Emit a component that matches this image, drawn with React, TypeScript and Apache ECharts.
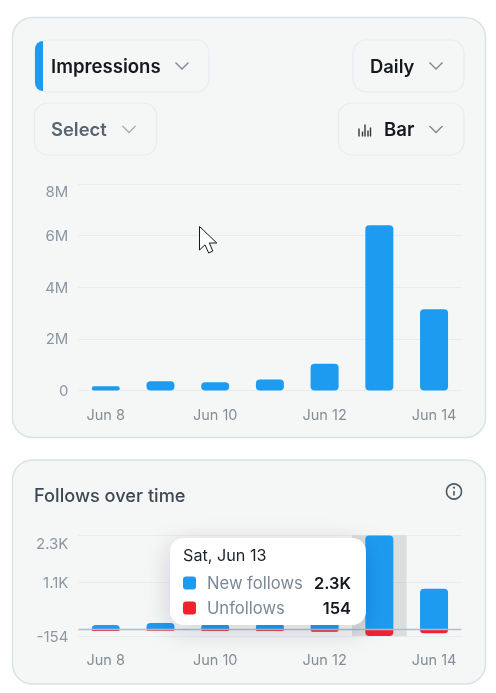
import React, { useEffect, useRef } from "react";
import * as echarts from "echarts";

const categories = ["Jun 8", "Jun 9", "Jun 10", "Jun 11", "Jun 12", "Jun 13", "Jun 14"];
const impressions = [160000, 360000, 320000, 430000, 1040000, 6400000, 3150000];
const newFollows = [114, 163, 140, 150, 190, 2300, 1000];
const unfollows = [-30, -25, -30, -30, -50, -154, -85];
const impressionTicks = [0, 2000000, 4000000, 6000000, 8000000];
const followTicks = [-154, 1150, 2300];
const followTickLabels: Record<string, string> = { "-154": "-154", "1150": "1.1K", "2300": "2.3K" };

const FONT = "Inter";
const BLUE = "#1d9bf0";
const RED = "#f4212e";
const GRID = "#e8ecf0";
const DARK = "#14191f";
const PANEL = "#f5f7f7";

const card = (y: number, h: number) => ({
  type: "rect", z: -10,
  shape: { x: 12.5, y, width: 473, height: h, r: 20 },
  style: { fill: PANEL, stroke: "#d9e3e9", lineWidth: 1.5 },
});
const button = (x: number, y: number, w: number) => ({
  type: "rect", z: -9,
  shape: { x, y, width: w, height: 52, r: 13 },
  style: { fill: PANEL, stroke: "#e8ecf0", lineWidth: 1.2 },
});
const chevron = (x: number, y: number, color: string) => ({
  type: "polyline", z: -8,
  shape: { points: [[x - 6.5, y - 3], [x, y + 3.5], [x + 6.5, y - 3]] },
  style: { fill: "none", stroke: color, lineWidth: 1.3 },
});
const label = (x: number, y: number, text: string, size: number, weight: number, fill: string, align = "left", z = -8) => ({
  type: "text", z, x, y,
  style: { text, fontFamily: FONT, fontSize: size, fontWeight: weight, fill, align, verticalAlign: "middle" },
});
const tipZ = 100;
const background = [
  card(17.5, 420),
  card(460, 224),
  button(35, 40, 174),
  {
    type: "rect", z: -8,
    shape: { x: 35, y: 41, width: 8, height: 50, r: [12, 0, 0, 12] },
    style: { fill: BLUE },
  },
  label(51, 66, "Impressions", 18.6, 600, DARK),
  chevron(182, 65.5, "#7b858f"),
  button(353, 40, 111),
  label(370, 66, "Daily", 18.4, 600, DARK),
  chevron(436, 65.5, "#7b858f"),
  button(34.5, 103, 122),
  label(51, 129, "Select", 18.4, 600, "#56646f"),
  chevron(129, 129, "#a3adb6"),
  button(338.5, 103, 125.5),
  ...[[359, 8], [362.5, 5], [365, 12], [368, 6], [370.5, 9]].map(([x, h]) => ({
    type: "line", z: -8,
    shape: { x1: x, y1: 136.5, x2: x, y2: 136.5 - h },
    style: { stroke: "#2f363d", lineWidth: 1.4 },
  })),
  label(384, 129, "Bar", 18.6, 600, DARK),
  chevron(436, 129, "#7b858f"),
  label(34, 495, "Follows over time", 18.2, 500, "#3d4853"),
  {
    type: "circle", z: -8,
    shape: { cx: 454, cy: 491.5, r: 7.5 },
    style: { fill: "none", stroke: "#4d5a66", lineWidth: 1.6 },
  },
  { type: "line", z: -8, shape: { x1: 454, y1: 491, x2: 454, y2: 495.5 }, style: { stroke: "#4d5a66", lineWidth: 1.6 } },
  { type: "circle", z: -8, shape: { cx: 454, cy: 487.7, r: 1 }, style: { fill: "#4d5a66" } },
];
const tooltip = [
  {
    type: "rect", z: tipZ,
    shape: { x: 170, y: 538, width: 196, height: 87, r: 14 },
    style: { fill: "#ffffff", shadowBlur: 24, shadowColor: "rgba(40,50,60,0.18)", shadowOffsetY: 6 },
  },
  label(183, 555, "Sat, Jun 13", 16.2, 400, "#1c2229", "left", tipZ + 1),
  { type: "rect", z: tipZ + 1, shape: { x: 183, y: 576.5, width: 13, height: 13, r: 3 }, style: { fill: BLUE } },
  label(207, 583, "New follows", 16.6, 400, "#7a8896", "left", tipZ + 1),
  label(351, 583, "2.3K", 16.4, 600, DARK, "right", tipZ + 1),
  { type: "rect", z: tipZ + 1, shape: { x: 183, y: 601.5, width: 13, height: 13, r: 3 }, style: { fill: RED } },
  label(207, 608, "Unfollows", 16.6, 400, "#7a8896", "left", tipZ + 1),
  label(351, 608, "154", 16.4, 600, DARK, "right", tipZ + 1),
];
const cursor = {
  type: "polygon", z: tipZ + 2,
  shape: { points: [[199.5, 226.5], [199.5, 250], [205, 244.8], [208.7, 253], [212.8, 251], [209.3, 243], [216.8, 243]] },
  style: { fill: "#ffffff", stroke: "#15181c", lineWidth: 1 },
};

const xAxisBase = {
  type: "category", data: categories,
  axisLine: { show: false }, axisTick: { show: false },
  axisLabel: { interval: 1, margin: 16, color: "#858d95", fontFamily: FONT, fontSize: 14.5 },
};
const yLabel = { margin: 10, color: "#8a97a4", fontFamily: FONT, fontSize: 15, verticalAlignMaxLabel: "top" };
const splitLine = { show: true, lineStyle: { color: GRID, width: 1.2 } };

export default function App() {
  const ref = useRef<HTMLDivElement>(null);
  useEffect(() => {
    document.body.style.margin = "0";
    document.body.style.background = "#fff";
    const chart = echarts.init(ref.current!, undefined, { renderer: "svg" });
    chart.setOption({
      animation: false,
      graphic: { elements: [...background, ...tooltip, cursor] },
      grid: [
        { left: 78.4, width: 383, top: 184, height: 206.5 },
        { left: 78.4, width: 383, top: 535.5, height: 100.5 },
      ],
      xAxis: [
        { ...xAxisBase, gridIndex: 0 },
        {
          ...xAxisBase, gridIndex: 1,
          axisLine: { show: false, onZero: false },
          axisPointer: {
            show: true, type: "shadow", value: 5, status: "show", z: 1,
            label: { show: false },
            shadowStyle: { color: "rgba(0,0,0,0.1)" },
          },
        },
      ],
      yAxis: [
        {
          type: "value", gridIndex: 0, min: 0, max: 8000000, interval: 2000000,
          axisLine: { show: false }, axisTick: { show: false }, splitLine,
          axisLabel: {
            ...yLabel,
            customValues: impressionTicks,
            formatter: (v: number) => (v === 0 ? "0" : `${v / 1000000}M`),
          },
        },
        {
          type: "value", gridIndex: 1, min: -154, max: 2300,
          axisLine: { show: false }, axisTick: { show: false, customValues: followTicks }, splitLine,
          axisLabel: {
            ...yLabel,
            customValues: followTicks,
            formatter: (v: number) => followTickLabels[String(v)] ?? String(v),
          },
        },
      ],
      series: [
        {
          name: "Impressions", type: "bar", xAxisIndex: 0, yAxisIndex: 0, data: impressions,
          barWidth: 28, itemStyle: { color: BLUE, borderRadius: 4 }, z: 5,
        },
        {
          name: "New follows", type: "bar", xAxisIndex: 1, yAxisIndex: 1, stack: "f", data: newFollows,
          barWidth: 28, itemStyle: { color: BLUE, borderRadius: [4, 4, 0, 0] }, z: 5,
          markLine: {
            silent: true, symbol: "none", z: 6, label: { show: false },
            data: [{ yAxis: 0 }],
            lineStyle: { color: "#aebdca", width: 1.3, type: "solid" },
          },
        },
        {
          name: "Unfollows", type: "bar", xAxisIndex: 1, yAxisIndex: 1, stack: "f", data: unfollows,
          barWidth: 28, itemStyle: { color: RED, borderRadius: [0, 0, 4, 4] }, z: 5,
        },
      ],
    });
    return () => chart.dispose();
  }, []);
  return <div ref={ref} style={{ position: "fixed", left: 0, top: 0, width: 496, height: 693 }} />;
}
